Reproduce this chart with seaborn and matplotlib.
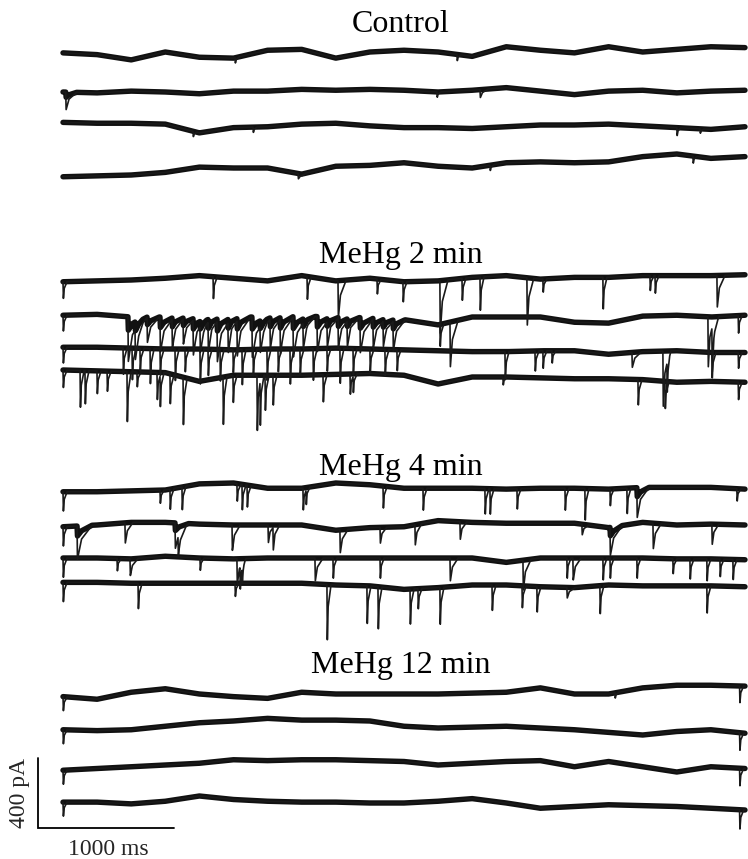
import numpy as np
import pandas as pd
import matplotlib
matplotlib.use("Agg")
import matplotlib.pyplot as plt
import seaborn as sns

# ---------------- data ----------------
# time of baseline knots (ms); every sweep lasts 5000 ms
knot_ms = np.arange(0, 5001, 250)

conditions = ["Control", "MeHg 2 min", "MeHg 4 min", "MeHg 12 min"]

# slow baseline of each sweep (pA, relative to its own resting level)
control_baseline = [
    [-5, -15, -45, 0, -30, -35, 10, 15, -35, 0, 10, 0, -25, 30, 10, -5, 30, 0, 15, 30, 25],
    [0, -5, 5, 0, -10, 5, 5, 15, 10, 15, 10, 0, 10, 25, 5, -15, 5, 10, -5, 5, 10],
    [15, 10, 10, 5, -45, -15, -10, 5, 10, -5, -15, -15, -20, -10, 0, 0, 5, -5, -15, -25, -10],
    [-50, -45, -40, -25, 5, 0, 0, -35, 10, 15, 30, 10, 0, 30, 35, 30, 35, 65, 80, 55, 65],
]
mehg2_baseline = [
    [-10, -5, 0, 10, 25, 10, -5, 25, -5, 10, -10, -5, 15, 25, 5, 15, 15, 25, 25, 25, 30],
    [10, 15, 0, 0, -5, 0, 0, 5, 0, -5, -15, -45, 0, 0, 0, -30, -35, 5, 10, 0, 10],
    [10, 10, 5, 0, 0, -5, 0, 0, 5, 0, -5, -10, -15, -15, -10, -10, -30, -15, -10, -20, -20],
    [40, 35, 30, 25, -25, 10, 10, 10, 15, 20, 10, -40, 0, 0, -5, -10, -10, -15, -30, -25, -30],
]
mehg4_baseline = [
    [-10, -10, -5, 0, 35, 40, 10, 10, 40, 30, 10, 10, 10, 5, 10, 10, 5, 15, 15, 15, 5],
    [-10, 0, 15, 15, 5, 0, 0, 0, -30, -15, -10, 25, 15, 10, 10, 10, -15, 15, 0, 5, 0],
    [0, 0, -5, 10, 0, -5, 0, 0, 0, 0, 0, 0, 0, -25, 0, 0, 0, 0, -5, -5, -10],
    [15, 15, 10, 10, 10, 10, 10, 10, 0, -5, -25, -15, 0, 0, -10, -15, 0, -5, -5, -5, -10],
]
mehg12_baseline = [
    [-15, -30, 10, 30, 0, -15, -25, 10, 0, 0, 0, 0, 5, 10, 35, 0, 0, 35, 50, 50, 45],
    [-10, -15, -10, 10, 30, 40, 55, 45, 45, 40, 10, 0, 5, 10, 0, -10, -25, -40, -20, -10, -30],
    [-30, -20, -10, 0, 10, 30, 25, 30, 30, 25, 20, 0, 10, 20, 25, -10, 20, -10, -40, -10, -20],
    [5, 5, -5, 10, 40, 20, 10, 5, 5, 0, 0, 10, 25, 0, -30, -20, -10, -15, -20, -30, -40],
]

# inward synaptic currents of each sweep: (onset ms, amplitude pA[, decay ms])
control_events = [
    [(1261, 30), (2888, 35)],
    [(20, 100, 80), (2741, 30), (3057, 45, 60)],
    [(953, 30), (1393, 30), (4500, 45), (4670, 25)],
    [(1723, 30, 60), (3130, 30), (4618, 40)],
]
mehg2_events = [
    [(0, 95), (1100, 125), (1789, 130), (2016, 210, 60), (2302, 85), (2492, 115), (2763, 300, 60),
     (2925, 125), (3057, 190), (3401, 270, 50), (3518, 75), (3958, 180), (4303, 85), (4340, 100),
     (4794, 180, 60)],
    [(0, 90), (476, 255, 110), (528, 170, 90), (616, 145, 90), (711, 200, 100), (799, 170, 90),
     (880, 145, 90), (953, 200, 100), (1004, 145, 90), (1063, 170, 90), (1129, 230, 110),
     (1209, 170, 90), (1275, 200, 100), (1385, 230, 110), (1444, 145, 90), (1517, 170, 90),
     (1591, 200, 100), (1686, 230, 110), (1759, 145, 90), (1862, 200, 100), (1935, 145, 90),
     (2016, 170, 90), (2082, 145, 90), (2177, 200, 100), (2272, 170, 90), (2346, 145, 90),
     (2419, 170, 90), (2763, 125), (2837, 255, 60), (4728, 285, 50), (4757, 255, 50),
     (4950, 100)],
    [(0, 90), (440, 150), (506, 180), (564, 130), (638, 200), (711, 150), (821, 180), (894, 130),
     (1004, 200), (1063, 150), (1151, 180), (1246, 130), (1312, 200), (1393, 150), (1495, 180),
     (1576, 130), (1664, 200), (1737, 150), (1833, 180), (1935, 130), (2030, 200), (2126, 150),
     (2250, 130), (2360, 150), (2448, 120), (3240, 160), (3460, 115), (3518, 100), (3584, 70),
     (4171, 85, 70), (4398, 315, 50), (4427, 170), (4757, 145), (4950, 90)],
    [(0, 100), (125, 210), (161, 190), (249, 130), (323, 115), (469, 285), (542, 85), (689, 155),
     (711, 180), (784, 170), (880, 270), (1173, 270), (1246, 155), (1422, 315), (1444, 255),
     (1481, 200), (1539, 170), (1906, 155), (2104, 115), (2126, 95), (3225, 45), (4215, 145),
     (4413, 155), (4950, 100)],
]
mehg4_events = [
    [(0, 110), (711, 75), (784, 115), (872, 130), (1275, 100), (1312, 145), (1349, 125),
     (1759, 125), (1781, 85), (2346, 125), (2639, 125), (3093, 145), (3130, 145), (3328, 115),
     (3680, 125), (3826, 180), (4010, 95), (4134, 145), (4207, 170, 90), (4940, 70)],
    [(0, 110), (103, 190, 110), (454, 115, 60), (821, 145, 100), (843, 115, 60), (1239, 145, 60),
     (1503, 100, 50), (1539, 130, 50), (2030, 130, 60), (2324, 90, 50), (2580, 115, 50),
     (2910, 100, 50), (3804, 60, 50), (4010, 160, 90), (4325, 145, 60), (4757, 115, 50)],
    [(0, 110), (396, 70), (491, 95, 60), (1004, 70), (1275, 145, 60), (1297, 125), (1312, 85),
     (1847, 130, 60), (1979, 115), (2324, 115), (2837, 130, 60), (3372, 170, 60), (3694, 115),
     (3738, 125, 60), (3958, 125), (4010, 115), (4207, 115), (4471, 85), (4596, 115),
     (4720, 125), (4816, 100), (4911, 115)],
    [(0, 110), (550, 145), (1261, 75), (1935, 315), (2228, 215), (2309, 240), (2544, 200),
     (2602, 115), (2763, 210), (3145, 145), (3365, 125), (3474, 145), (3694, 60, 60),
     (3936, 160), (4720, 155)],
]
mehg12_events = [
    [(0, 80), (4046, 30), (4960, 95)],
    [(0, 80), (4960, 100)],
    [(0, 80), (4960, 100)],
    [(0, 80), (4960, 110)],
]

baselines = [control_baseline, mehg2_baseline, mehg4_baseline, mehg12_baseline]
events = [control_events, mehg2_events, mehg4_events, mehg12_events]

scale_time_ms = 1000
scale_current_pA = 400

# ---------------- layout ----------------
W, H = 748, 859
PX_MS = 5000 / 682          # ms per pixel
PA_PX = 400 / 70            # pA per pixel
X0 = 63                     # pixel where sweeps start


def xd(px):
    return (px - X0) * PX_MS


def yd(py):
    return -py * PA_PX


rest_rows_px = [[52, 92, 125, 168], [280, 317, 349, 377], [490, 525, 558, 585], [694, 728, 765, 803]]
title_rows_px = [25, 256, 467, 665]
title_x_px = 401
RISE_MS, DEFAULT_DECAY = 3, 30
SLOW_LIMIT = 80            # events this slow also drag the thick noise band


def event_shape(dt, a, d):
    return np.interp(dt, [0, RISE_MS, 0.3 * d, d], [0, -a, -0.4 * a, 0], left=0, right=0)


def slow_shape(dt, a, d):
    return np.interp(dt, [0, RISE_MS, 0.3 * d, d], [0, -0.3 * a, -0.15 * a, 0], left=0, right=0)


# ---------------- build long-form tables ----------------
rows = []
for ci, cond in enumerate(conditions):
    for ti in range(4):
        base = np.asarray(baselines[ci][ti], float)
        off = yd(rest_rows_px[ci][ti])
        evs = [(e[0], e[1], e[2] if len(e) > 2 else DEFAULT_DECAY) for e in events[ci][ti]]
        tpts = set(knot_ms.tolist())
        for t, a, d in evs:
            for dt in (0, RISE_MS, 0.3 * d, d):
                if t + dt <= 5000:
                    tpts.add(t + dt)
        tpts = np.array(sorted(tpts))
        fast = np.interp(tpts, knot_ms, base)
        slow = fast.copy()
        for t, a, d in evs:
            fast += event_shape(tpts - t, a, d)
            if d >= SLOW_LIMIT:
                slow += slow_shape(tpts - t, a, d)
        for tt, f, s in zip(tpts, fast, slow):
            rows.append((f"{cond}-{ti}", tt, f + off, s + off))

df = pd.DataFrame(rows, columns=["trace", "t", "y", "band"])

# ---------------- draw ----------------
sns.set_theme(style="white")
plt.rcParams["font.family"] = ["Liberation Serif", "DejaVu Serif"]

fig = plt.figure(figsize=(W / 100, H / 100), dpi=100)
ax = fig.add_axes([0, 0, 1, 1])

sns.lineplot(data=df, x="t", y="band", units="trace", estimator=None, sort=False,
             color="#111111", lw=3.9, legend=False, ax=ax, solid_joinstyle="round")
sns.lineplot(data=df, x="t", y="y", units="trace", estimator=None, sort=False,
             color="#1a1a1a", lw=1.2, legend=False, ax=ax)

for cond, ty in zip(conditions, title_rows_px):
    ax.text(xd(title_x_px), yd(ty), cond, ha="center", va="center", fontsize=23, color="black")

# scale bar
sx, sy = xd(38), yd(828)
ax.plot([sx, sx, sx + scale_time_ms], [sy + scale_current_pA, sy, sy], color="black", lw=1.3,
        solid_joinstyle="miter")
ax.text(xd(19), sy + scale_current_pA / 2, f"{scale_current_pA} pA", rotation=90,
        ha="center", va="center", fontsize=17)
ax.text(xd(108), yd(849), f"{scale_time_ms} ms", ha="center", va="center", fontsize=17)

ax.set_xlim(xd(0), xd(W))
ax.set_ylim(yd(H), yd(0))
ax.axis("off")
fig.savefig("out.png", dpi=100, facecolor="white")
